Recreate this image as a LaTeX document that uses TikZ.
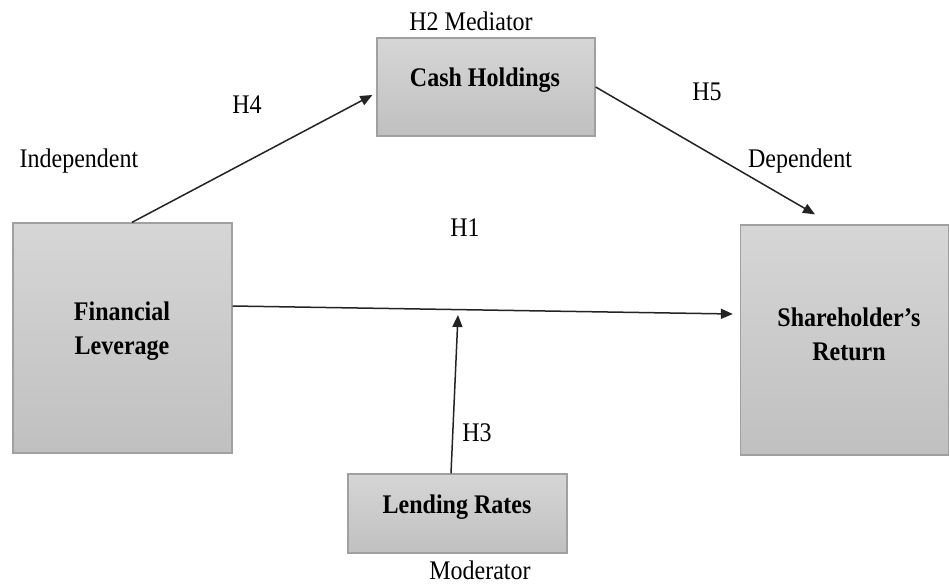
\documentclass[tikz,border=0pt]{standalone}
\usepackage{fontspec}
\setmainfont{Liberation Serif}
\usetikzlibrary{arrows.meta}
\definecolor{boxtop}{RGB}{214,214,214}
\definecolor{boxbot}{RGB}{192,192,192}
\definecolor{boxline}{RGB}{160,160,160}
\definecolor{arrline}{RGB}{35,35,35}
\newcommand{\tallt}[1]{\scalebox{1}[1.12]{#1}}
\tikzset{
  varbox/.style={draw=boxline, line width=1.3pt, top color=boxtop, bottom color=boxbot, inner sep=0pt},
  boldtxt/.style={font=\fontsize{24}{34}\selectfont\bfseries, align=center, inner sep=0pt},
  lbl/.style={font=\fontsize{24}{28}\selectfont, inner sep=0pt, anchor=base},
  arr/.style={draw=arrline, line width=1.5pt, -{Triangle[length=12pt,width=10pt]}},
}
\begin{document}
\begin{tikzpicture}[x=1pt,y=-1pt]
\useasboundingbox (0,0) rectangle (950,586);
% boxes
\node[varbox, minimum width=219pt, minimum height=230pt] (fl) at (122.5,338) {};
\node[varbox, minimum width=208pt, minimum height=230pt] (sr) at (844.5,340) {};
\node[varbox, minimum width=218pt, minimum height=98pt] (ch) at (486,87) {};
\node[varbox, minimum width=219pt, minimum height=79pt] (lr) at (457.5,513.5) {};
% box texts
\node[boldtxt] (flt) at (122,331) {\tallt{Financial}\\\tallt{Leverage}};
\node[boldtxt] (srt) at (849,334) {\tallt{Shareholder’s}\\\tallt{Return}};
\node[boldtxt, anchor=base] (cht) at (485,86) {\tallt{Cash Holdings}};
\node[boldtxt, anchor=base] (lrt) at (457,513) {\tallt{Lending Rates}};
% labels
\node[lbl] (med) at (471,31) {\tallt{H2 Mediator}};
\node[lbl] (mod) at (480,579) {\tallt{Moderator}};
\node[lbl] (h4) at (247,113) {\tallt{H4}};
\node[lbl] (ind) at (79,167) {\tallt{Independent}};
\node[lbl] (h5) at (707,100) {\tallt{H5}};
\node[lbl] (dep) at (800,167) {\tallt{Dependent}};
\node[lbl] (h1) at (465,236) {\tallt{H1}};
\node[lbl] (h3) at (477,441) {\tallt{H3}};
% connectors
\coordinate (h1mid) at (458,315);
\draw[arr] ([xshift=9.5pt]fl.north) -- ([xshift=-4pt,yshift=-8pt]ch.west);
\draw[arr] (ch.east) -- ([xshift=-29.5pt,yshift=10pt]sr.north);
\draw[arr] ([yshift=32pt]fl.east) -- ([xshift=-7pt,yshift=26pt]sr.west);
\draw[arr] ([xshift=-6.5pt]lr.north) -- (h1mid);
\end{tikzpicture}
\end{document}
